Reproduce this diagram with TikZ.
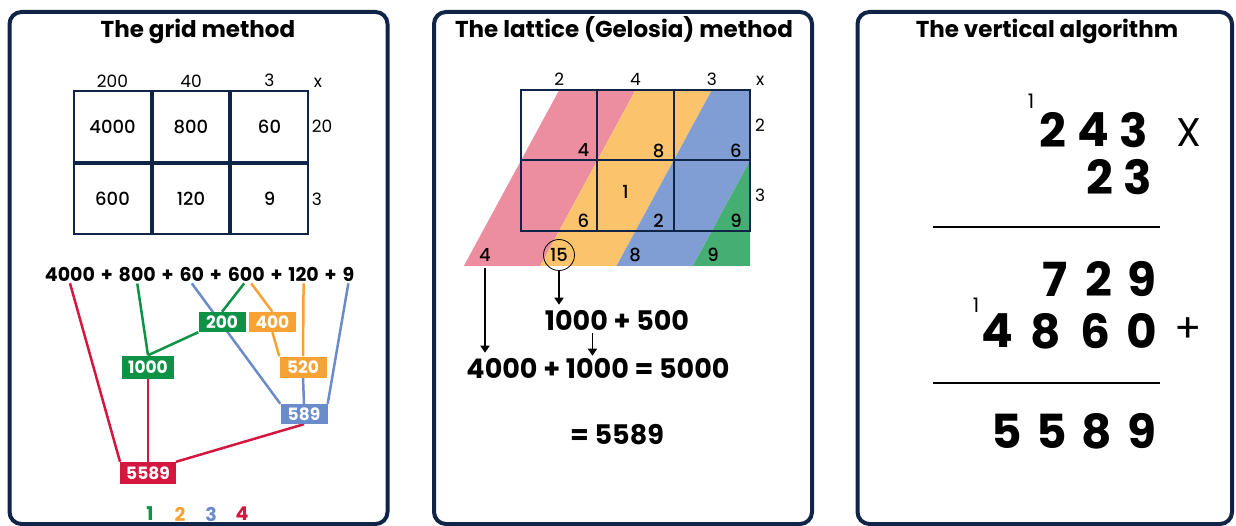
\documentclass[tikz,border=0pt]{standalone}
\usepackage{fontspec}
\setmainfont{Poppins}
\newfontfamily\mediumfont{Poppins Medium}
\usetikzlibrary{positioning, arrows.meta, calc, backgrounds}

\definecolor{navy}{HTML}{0F2447}
\definecolor{gridred}{HTML}{D4173F}
\definecolor{gridgreen}{HTML}{0E9346}
\definecolor{gridorange}{HTML}{F7A234}
\definecolor{gridblue}{HTML}{6A8CCB}
\definecolor{latpink}{HTML}{EC8E9F}
\definecolor{latorange}{HTML}{FBC46C}
\definecolor{latblue}{HTML}{819ED4}
\definecolor{latgreen}{HTML}{45AE72}

\begin{document}
\begin{tikzpicture}[x=1pt, y=-1pt,
    panel/.style={draw=navy, line width=4pt, rounded corners=12pt, minimum height=512pt, inner sep=0pt},
    heading/.style={anchor=base, inner sep=0pt, font=\bfseries\fontsize{23}{26}\selectfont},
    gcell/.style={draw=navy, line width=2pt, minimum width=76.5pt, minimum height=70.5pt, inner sep=0pt, font=\mediumfont\fontsize{18}{20}\selectfont},
    lbl/.style={inner sep=0pt, font=\fontsize{17}{19}\selectfont},
    term/.style={inner sep=0pt, font=\bfseries\fontsize{19}{21}\selectfont},
    numbox/.style={fill=#1, text=white, inner xsep=6pt, minimum width=47pt, minimum height=20pt, font=\bfseries\fontsize{17}{19}\selectfont},
    wire/.style={draw=#1, line width=2.5pt},
    digit/.style={inner sep=0pt, font=\mediumfont\fontsize{18}{20}\selectfont},
    sumtext/.style={inner sep=0pt, font=\bfseries\fontsize{27}{30}\selectfont},
    arrow/.style={-{Triangle[width=9pt, length=7pt]}, line width=1.6pt},
    bigdigit/.style={inner sep=0pt, font=\bfseries\fontsize{47}{52}\selectfont},
    carry/.style={inner sep=0pt, font=\fontsize{20}{22}\selectfont},
    rule/.style={line width=2.5pt}
]
    \useasboundingbox (0,0) rectangle (1236,526);

    % Panels
    \node[panel, minimum width=378pt] (pgrid) at (198.5,268) {};
    \node[panel, minimum width=378pt] (plat) at (623,268) {};
    \node[panel, minimum width=374.5pt] (pvert) at (1044.75,268) {};
    \node[heading] (tgrid) at (198,38) {The grid method};
    \node[heading] (tlat) at (624,38) {The lattice (Gelosia) method};
    \node[heading] (tvert) at (1047,38) {The vertical algorithm};

    % Grid method
    \node[gcell] (g11) at (112.5,126.5) {4000};
    \node[gcell, right=0pt of g11] (g12) {800};
    \node[gcell, right=0pt of g12] (g13) {60};
    \node[gcell, below=0pt of g11] (g21) {600};
    \node[gcell, right=0pt of g21] (g22) {120};
    \node[gcell, right=0pt of g22] (g23) {9};
    \node[lbl, above=3pt of g11] (h1) {200};
    \node[lbl, above=3pt of g12] (h2) {40};
    \node[lbl, above=3pt of g13] (h3) {3};
    \node[lbl, above right=3pt and 5pt of g13.north east] (hx) {x};
    \node[lbl, right=3pt of g13] (r1) {20};
    \node[lbl, right=3pt of g23] (r2) {3};

    % Sum of the partial products
    \node[term] (s1) at (70,274) {4000};
    \node[term, base right=5.5pt of s1] (s2) {+};
    \node[term, base right=5.5pt of s2] (s3) {800};
    \node[term, base right=5.5pt of s3] (s4) {+};
    \node[term, base right=5.5pt of s4] (s5) {60};
    \node[term, base right=5.5pt of s5] (s6) {+};
    \node[term, base right=5.5pt of s6] (s7) {600};
    \node[term, base right=5.5pt of s7] (s8) {+};
    \node[term, base right=5.5pt of s8] (s9) {120};
    \node[term, base right=5.5pt of s9] (s10) {+};
    \node[term, base right=5.5pt of s10] (s11) {9};

    \node[numbox=gridgreen] (b200) at (222,322) {200};
    \node[numbox=gridorange, right=3pt of b200] (b400) {400};
    \node[numbox=gridgreen, minimum height=23pt] (b1000) at (148,367) {1000};
    \node[numbox=gridorange, minimum height=21pt] (b520) at (303,367) {520};
    \node[numbox=gridblue] (b589) at (304,414) {589};
    \node[numbox=gridred, minimum height=22pt] (b5589) at (148,473) {5589};

    \begin{scope}[on background layer]
        \draw[wire=gridgreen] ($(s3.south)+(0,2)$) -- (b1000.north);
        \draw[wire=gridgreen] (b1000.north) -- (b200.south west);
        \draw[wire=gridgreen] ($(s7.south)+(-2,2)$) -- (b200.north);
        \draw[wire=gridorange] ($(s7.south)+(5,2)$) -- (b400.north);
        \draw[wire=gridorange] (b400.south) -- (b520.north west);
        \draw[wire=gridorange] ($(s9.south)+(0,2)$) -- (b520.north);
        \draw[wire=gridblue] ($(s5.south)+(0,2)$) -- (b589.north west);
        \draw[wire=gridblue] (b520.south) -- (b589.north);
        \draw[wire=gridblue] ($(s11.south)+(0,2)$) -- (b589.north east);
        \draw[wire=gridred] ($(s1.south)+(0,2)$) -- (b5589.north west);
        \draw[wire=gridred] (b1000.south) -- (b5589.north);
        \draw[wire=gridred] (b589.south) -- (b5589.north east);
    \end{scope}

    % Colour key
    \node[term, text=gridgreen] (k1) at (150,514) {1};
    \node[term, text=gridorange] (k2) at (180,514) {2};
    \node[term, text=gridblue] (k3) at (211,514) {3};
    \node[term, text=gridred] (k4) at (242,514) {4};

    % Lattice method
    \begin{scope}
        \clip (559.2,90) -- (750,90) -- (750,266) -- (463.8,266) -- cycle;
        \foreach \c [count=\k from 0] in {latpink, latorange, latblue, latgreen}
            \fill[\c] ({559.2+\k*76.33},90) -- ({635.5+\k*76.33},90) -- ({540.1+\k*76.33},266) -- ({463.8+\k*76.33},266) -- cycle;
    \end{scope}
    \foreach \r in {1,2}
        \foreach \c in {1,2,3}
            \node[gcell, minimum width=76.33pt] (l\r\c) at ({521+(\c-0.5)*76.33}, {90+(\r-0.5)*70.5}) {};
    \node[lbl, above=3pt of l11] (lh1) {2};
    \node[lbl, above=3pt of l12] (lh2) {4};
    \node[lbl, above=3pt of l13] (lh3) {3};
    \node[lbl, above right=3pt and 5pt of l13.north east] (lhx) {x};
    \node[lbl, right=4pt of l13] (lr1) {2};
    \node[lbl, right=4pt of l23] (lr2) {3};

    \node[digit] (d11) at ($(l11.south east)+(-15,-11)$) {4};
    \node[digit] (d12) at ($(l12.south east)+(-16,-11)$) {8};
    \node[digit] (d13) at ($(l13.south east)+(-15,-11)$) {6};
    \node[digit] (d21) at ($(l21.south east)+(-15,-11)$) {6};
    \node[digit] (d22t) at ($(l22)+(-10,-4)$) {1};
    \node[digit] (d22) at ($(l22.south east)+(-16,-11)$) {2};
    \node[digit] (d23) at ($(l23.south east)+(-15,-11)$) {9};

    \node[digit] (n4) at (485,255) {4};
    \node[digit, circle, draw, line width=0.8pt, minimum size=31pt] (c15) at (559,255) {15};
    \node[digit] (n8) at (635,255) {8};
    \node[digit] (n9) at (713,255) {9};

    \node[sumtext] (part) at (617,320) {1000 + 500};
    \node[sumtext] (total) at (598,368) {4000 + 1000 = 5000};
    \node[sumtext] (answer) at (617,435) {= 5589};

    \coordinate (pk) at ($(part.south west)!0.33!(part.south east)$);
    \draw[arrow, shorten >=5pt] ($(n4.south)+(0,6)$) -- (n4.south |- total.north);
    \draw[arrow, shorten >=5pt] (c15.south) -- (c15.south |- part.north);
    \draw[arrow, shorten <=3pt, shorten >=2pt] (pk) -- (pk |- total.north);

    % Vertical algorithm
    \foreach \d/\x in {2/1053, 4/1093, 3/1134}
        \node[bigdigit] (a\x) at (\x,130) {\d};
    \foreach \d/\x in {2/1100, 3/1138}
        \node[bigdigit] (b\x) at (\x,177) {\d};
    \node[carry] (ca) at (1031,101) {1};
    \node[inner sep=0pt, font=\fontsize{40}{44}\selectfont] (times) at (1189,133) {X};
    \draw[rule] (933,227) -- (1160,227);
    \foreach \d/\x in {7/1055, 2/1099, 9/1142}
        \node[bigdigit] (p\x) at (\x,279) {\d};
    \foreach \d/\x in {4/997, 8/1046, 6/1095, 0/1142}
        \node[bigdigit] (q\x) at (\x,331) {\d};
    \node[carry] (cb) at (976,305) {1};
    \node[inner sep=0pt, font=\fontsize{40}{44}\selectfont] (plus) at (1188,330) {+};
    \draw[rule] (933,383) -- (1160,383);
    \foreach \d/\x in {5/1007, 5/1052, 8/1097, 9/1142}
        \node[bigdigit] (t\x) at (\x,431) {\d};

\end{tikzpicture}
\end{document}
